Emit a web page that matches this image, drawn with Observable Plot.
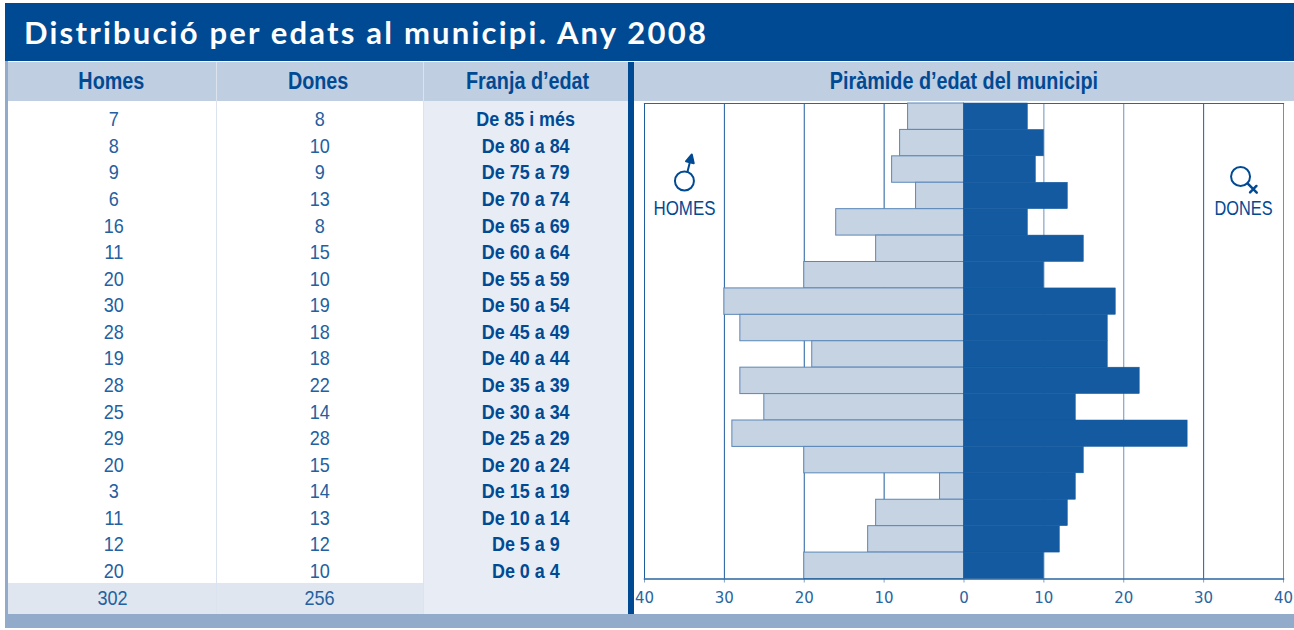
<!DOCTYPE html>
<html><head><meta charset="utf-8">
<script src="https://cdn.jsdelivr.net/npm/d3@7"></script>
<script src="https://cdn.jsdelivr.net/npm/@observablehq/plot@0.6"></script>
<style>
html,body{margin:0;padding:0;background:#fff;width:1294px;height:630px;overflow:hidden}
#page{position:relative;width:1294px;height:630px;font-family:"Liberation Sans",sans-serif;color:#004a94}
#page>div{position:absolute;box-sizing:border-box}
.title{left:5px;top:3px;width:1289px;height:58px;background:#004a94;color:#fff;font:700 31px/58px Lato,sans-serif;padding-left:19px;letter-spacing:2.2px}
.head{top:62px;height:39px;background:#bfcee1;font-weight:700;font-size:23px;line-height:39px;text-align:center}
.head span{display:inline-block;transform:scaleX(.86)}
.col{top:101px;height:482px;text-align:center}
.cell{height:26.59px;line-height:26.59px}
.cell span,.total span{display:inline-block}
.num{font-size:21px;color:#24609f}
.num span,.total span{transform:scaleX(.86)}
.age{font-size:19.5px;font-weight:700;color:#004a94}
.age span{transform:scaleX(.92)}
.total{top:583px;height:31px;background:#dfe6ef;text-align:center;line-height:29px;font-size:21px;color:#24609f}
#chart{left:634px;top:95px}
#chart svg{display:block}
</style></head><body>
<div id="page"></div>
<script>
const titleText = "Distribució per edats al municipi. Any 2008";
const headers = ["Homes", "Dones", "Franja d’edat"];
const chartHeader = "Piràmide d’edat del municipi";
const ages = ["De 85 i més","De 80 a 84","De 75 a 79","De 70 a 74","De 65 a 69","De 60 a 64","De 55 a 59","De 50 a 54","De 45 a 49","De 40 a 44","De 35 a 39","De 30 a 34","De 25 a 29","De 20 a 24","De 15 a 19","De 10 a 14","De 5 a 9","De 0 a 4"];
const homes = [7,8,9,6,16,11,20,30,28,19,28,25,29,20,3,11,12,20];
const dones = [8,10,9,13,8,15,10,19,18,18,22,14,28,15,14,13,12,10];
const totals = [302,256];
const ticks = [-40,-30,-20,-10,0,10,20,30,40];
const gridDark = [-40,-30,-20,-10,30];
const gridLight = [10,20,40];

const page = d3.select("#page");
const box = (cls,l,w,txt,bg) => {
  const d = page.append("div").attr("class",cls).style("left",l+"px").style("width",w+"px");
  if (bg) d.style("background",bg);
  if (txt!=null) d.append("span").text(txt);
  return d;
};
page.append("div").attr("class","title").text(titleText);
page.append("div").style("left","5px").style("top","61px").style("width","3px").style("height","553px").style("background","#93abcb");
page.append("div").style("left","5px").style("top","614px").style("width","1289px").style("height","14px").style("background","#93abcb");
box("head",8,208,headers[0]).style("padding-right","2px");
box("head",217,206,headers[1]).style("padding-right","4px");
box("head",424,204,headers[2]).style("padding-left","3px");
box("head",634,660,chartHeader);
const colH = box("col",8,208,null).style("padding-top","5.2px").style("padding-left","4px");
const colD = box("col",217,206,null).style("padding-top","5.2px");
const colA = box("col",424,204,null,"#e8edf5").style("padding-top","5.2px").style("height","513px");
homes.forEach(v=>colH.append("div").attr("class","cell num").append("span").text(v));
dones.forEach(v=>colD.append("div").attr("class","cell num").append("span").text(v));
ages.forEach(v=>colA.append("div").attr("class","cell age").append("span").text(v));
page.append("div").style("left","216px").style("top","62px").style("width","1px").style("height","552px").style("background","#dbe3ee");
page.append("div").style("left","423px").style("top","62px").style("width","1px").style("height","552px").style("background","#dbe3ee");
box("total",8,208,totals[0]).style("padding-left","2px");
box("total",217,206,totals[1]);
page.append("div").style("left","628px").style("top","62px").style("width","6px").style("height","552px").style("background","#004a94");

const rows = ages.map((a,i)=>({age:a,h:homes[i],d:dones[i]}));
const femaleTail = {
  draw(ctx, l) {
    ctx.moveTo(0,0); ctx.lineTo(0,-l);
    ctx.moveTo(-4.5,-l*0.62); ctx.lineTo(4.5,-l*0.62);
  }
};
const maleArrow = {
  draw(ctx, l) {
    ctx.moveTo(0,0); ctx.lineTo(0,-l+8);
    ctx.lineTo(-4,-l+8); ctx.lineTo(0,-l); ctx.lineTo(4,-l+8); ctx.lineTo(0,-l+8);
  }
};
const symColor = "#004a94";
const plot = Plot.plot({
  width:660, height:519,
  marginLeft:10, marginRight:11, marginTop:8, marginBottom:35.5,
  style:{background:"transparent",overflow:"visible"},
  x:{domain:[-40,40],label:null},
  y:{domain:ages,padding:0,round:false,axis:null,label:null},
  marks:[
    Plot.ruleX(gridDark,{stroke:"#1f5c9e",strokeWidth:1}),
    Plot.ruleX(gridLight,{stroke:"#6a92bd",strokeWidth:1}),
    Plot.frame({anchor:"top",stroke:"#2a659f",strokeWidth:1.2}),
    Plot.barX(rows,{y:"age",x1:0,x2:d=>-d.h,fill:"#c6d3e3",stroke:"#5a87b8",strokeWidth:1}),
    Plot.barX(rows,{y:"age",x1:0,x2:"d",fill:"#135aa0",stroke:"#135aa0",strokeWidth:0.5}),
    Plot.frame({anchor:"bottom",stroke:"#2a659f",strokeWidth:1.5}),
    Plot.axisX({ticks,tickFormat:d=>Math.abs(d),anchor:"bottom",label:null,
      stroke:"#2a659f",fill:"#2a659f",fontSize:15,fontFamily:"DejaVu Sans",strokeWidth:0.6,tickSize:4,tickPadding:9}),
    Plot.text(["HOMES"],{x:[-35],y:[ages[3]],dy:12.5,fill:symColor,fontSize:20,fontFamily:"Liberation Sans"}),
    Plot.text(["DONES"],{x:[35],y:[ages[3]],dy:12.5,fill:symColor,fontSize:20,fontFamily:"Liberation Sans"}),
    Plot.dot([0],{x:[-35],y:[ages[3]],dy:-15,r:9.5,stroke:symColor,strokeWidth:2,fill:"none"}),
    Plot.vector([0],{x:[-35],y:[ages[3]],dx:3,dy:-24,length:18,rotate:14,shape:maleArrow,anchor:"start",stroke:symColor,strokeWidth:2,fill:symColor}),
    Plot.dot([0],{x:[35],y:[ages[3]],dx:-3,dy:-19.5,r:9.5,stroke:symColor,strokeWidth:2,fill:"none"}),
    Plot.vector([0],{x:[35],y:[ages[3]],dx:4,dy:-12.5,length:13,rotate:135,shape:femaleTail,anchor:"start",stroke:symColor,strokeWidth:2.5})
  ]
});
d3.select(plot).selectAll("text").each(function(){
  const t=this.textContent;
  if(t==="HOMES"){this.setAttribute("textLength",62);this.setAttribute("lengthAdjust","spacingAndGlyphs");}
  if(t==="DONES"){this.setAttribute("textLength",58);this.setAttribute("lengthAdjust","spacingAndGlyphs");}
});
page.append("div").attr("id","chart").node().appendChild(plot);
</script>
</body></html>
